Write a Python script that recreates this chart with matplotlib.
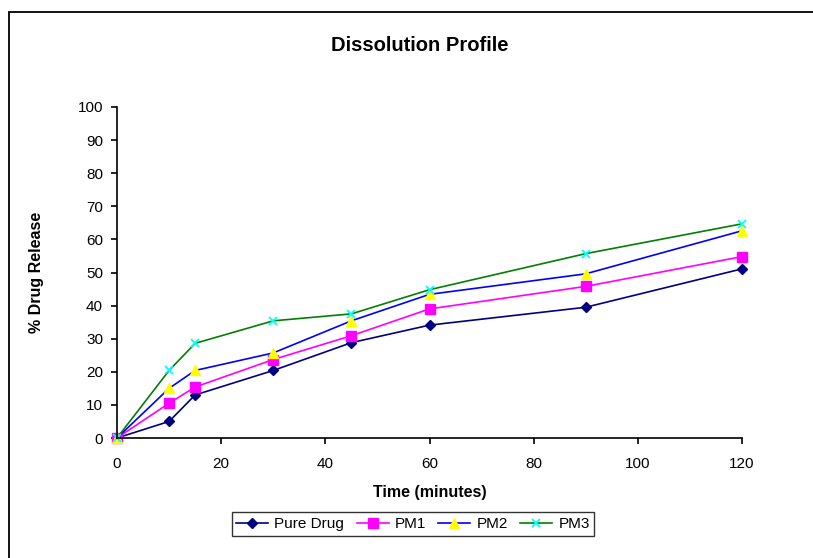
import matplotlib.pyplot as plt
from matplotlib.patches import Rectangle

plt.rcParams['font.family'] = ['Liberation Sans', 'DejaVu Sans']

# sampling times (minutes) and cumulative % release
time_min = [0, 10, 15, 30, 45, 60, 90, 120]
pure_drug = [0, 5.0, 13.0, 20.4, 28.8, 34.1, 39.5, 51.1]
pm1 = [0, 10.5, 15.4, 23.7, 30.9, 39.0, 45.8, 54.8]
pm2 = [0, 15.0, 20.4, 25.7, 35.4, 43.4, 49.6, 62.6]
pm3 = [0, 20.4, 28.6, 35.4, 37.5, 44.8, 55.7, 64.7]

fig = plt.figure(figsize=(8.13, 5.58), dpi=100)
# outer chart border
fig.patches.append(Rectangle((9 / 813, -0.05), 1.1, (558 - 12) / 558 + 0.05,
                             transform=fig.transFigure, fill=False,
                             edgecolor='black', linewidth=1.3))

ax = fig.add_axes([117 / 813, 120 / 558, 625 / 813, 331 / 558])

ax.plot(time_min, pure_drug, color='#000080', lw=1.2, marker='D', ms=5.5,
        mfc='#000080', mec='#000080', label='Pure Drug', clip_on=False)
ax.plot(time_min, pm1, color='#FF00FF', lw=1.2, marker='s', ms=6.5,
        mfc='#FF00FF', mec='#FF00FF', label='PM1', clip_on=False)
ax.plot(time_min, pm2, color='#0000FF', lw=1.2, marker='^', ms=7.5,
        mfc='#FFFF00', mec='#FFFF00', label='PM2', clip_on=False)
ax.plot(time_min, pm3, color='#008000', lw=1.2, marker='x', ms=6, mew=1.3,
        mfc='#00FFFF', mec='#00FFFF', label='PM3', clip_on=False)

ax.set_xlim(0, 120)
ax.set_ylim(0, 100)
ax.set_xticks(range(0, 121, 20))
ax.set_yticks(range(0, 101, 10))
ax.spines['top'].set_visible(False)
ax.spines['right'].set_visible(False)
for s in ('left', 'bottom'):
    ax.spines[s].set_linewidth(1.2)
ax.tick_params(direction='out', length=4, width=1.2, labelsize=11, pad=6)
ax.tick_params(axis='x', pad=10)

ax.set_xlabel('Time (minutes)', fontsize=11.5, fontweight='bold', labelpad=10)
ax.set_ylabel('% Drug Release', fontsize=11.5, fontweight='bold', labelpad=24)
fig.text(0.516, 0.918, 'Dissolution Profile', ha='center', va='center',
         fontsize=14.5, fontweight='bold')

leg = fig.legend(loc='center', bbox_to_anchor=(0.508, 0.061), ncol=4,
                 fontsize=11, frameon=True, fancybox=False, borderpad=0.3,
                 handlelength=2.1, handletextpad=0.4, columnspacing=0.8)
leg.get_frame().set_edgecolor('black')
leg.get_frame().set_linewidth(1.0)

fig.savefig('out.png', dpi=100)
